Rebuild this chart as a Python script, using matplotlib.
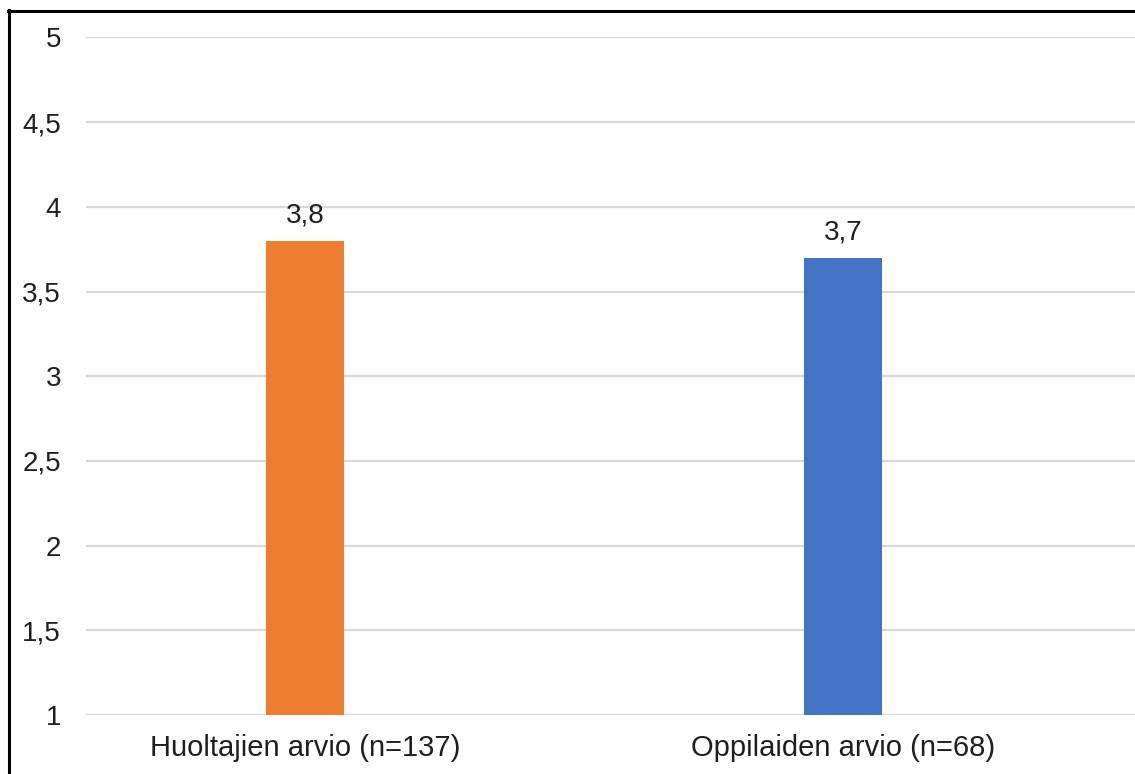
import matplotlib.pyplot as plt
from matplotlib.lines import Line2D

categories = ["Huoltajien arvio (n=137)", "Oppilaiden arvio (n=68)"]
values = [3.8, 3.7]
colors = ["#ED7D31", "#4472C4"]
yticks = [1, 1.5, 2, 2.5, 3, 3.5, 4, 4.5, 5]

plt.rcParams['font.family'] = ['Liberation Sans', 'DejaVu Sans']

fig = plt.figure(figsize=(11.35, 7.74), dpi=100)
ax = fig.add_axes([0.0758, 0.0762, 0.9242, 0.8754])

x = list(range(len(categories)))
ax.bar(x, values, width=0.145, color=colors, zorder=3)

for xi, v in zip(x, values):
    ax.text(xi, v + 0.07, f"{v:.1f}".replace(".", ","), ha='center', va='bottom',
            fontsize=20, color='#1f1f1f')

ax.set_ylim(1, 5)
ax.set_xlim(-0.407, 1.543)
ax.set_yticks(yticks)
ax.set_yticklabels([f"{t:g}".replace(".", ",") for t in yticks])
ax.set_xticks(x)
ax.set_xticklabels(categories)
ax.tick_params(axis='y', length=0, pad=18, labelsize=20, labelcolor='#1f1f1f')
ax.tick_params(axis='x', length=0, pad=14, labelsize=21, labelcolor='#1f1f1f')
ax.grid(axis='y', color='#d9d9d9', linewidth=1.6, zorder=0)
for s in ax.spines.values():
    s.set_visible(False)

# outer frame (top and left edges visible)
fig.add_artist(Line2D([8 / 1135, 1], [1 - 10.5 / 774, 1 - 10.5 / 774], color='black', linewidth=2.2))
fig.add_artist(Line2D([8.5 / 1135, 8.5 / 1135], [0, 1 - 10 / 774], color='black', linewidth=2.2))

fig.savefig("out.png", dpi=100)
